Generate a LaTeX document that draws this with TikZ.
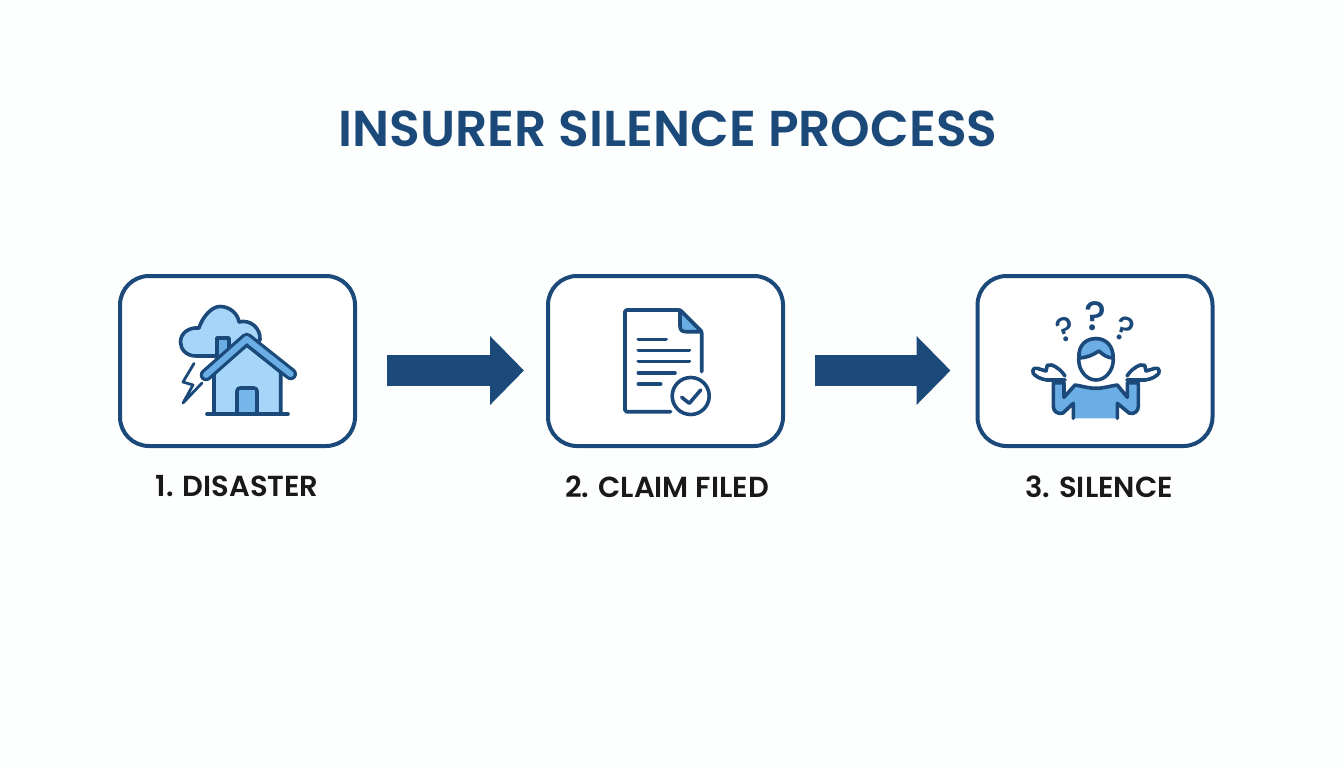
\documentclass[tikz,border=0pt]{standalone}
\usepackage{fontspec}
\setmainfont[BoldFont=Poppins SemiBold]{Poppins}
\newfontfamily\questfont{Poppins Medium}
\usetikzlibrary{arrows.meta}
\definecolor{navyline}{HTML}{1B4A7A}
\definecolor{paleblue}{HTML}{A5D5F8}
\definecolor{midblue}{HTML}{6BAEE6}
\definecolor{pagetint}{HTML}{FDFEFE}
\tikzset{
  stepbox/.style={draw=navyline,line width=4pt,rounded corners=29pt,minimum width=235pt,minimum height=170pt,outer sep=0pt,fill=white},
  steplabel/.style={font=\fontsize{29}{32}\selectfont\bfseries,text=black!90,inner sep=0pt},
  flowarrow/.style={draw=navyline,line width=31pt,-{Triangle[length=34pt,width=67pt,fill=navyline]}},
  icon/.style={draw=navyline,line width=3.6pt,line join=round,line cap=round},
  quest/.style={text=navyline,inner sep=0pt}
}
\begin{document}
\begin{tikzpicture}[x=1pt,y=-1pt]
  \useasboundingbox[fill=pagetint] (0,0) rectangle (1344,768);

  \node[font=\fontsize{50.4}{56}\selectfont\bfseries,text=navyline,inner sep=0pt] (title) at (668,129) {INSURER SILENCE PROCESS};

  \node[stepbox] (disaster) at (237.5,361) {};
  \node[stepbox] (claim) at (665.5,361) {};
  \node[stepbox] (silence) at (1095,361) {};

  \node[steplabel] (disasterlabel) at (237,486.5) {1. DISASTER};
  \node[steplabel] (claimlabel) at (667,486.5) {2. CLAIM FILED};
  \node[steplabel] (silencelabel) at (1099,486.5) {3. SILENCE};

  \draw[flowarrow] ([xshift=32pt,yshift=-9.5pt]disaster.east) -- ([xshift=-24pt,yshift=-9.5pt]claim.west);
  \draw[flowarrow] ([xshift=32pt,yshift=-9.5pt]claim.east) -- ([xshift=-27pt,yshift=-9.5pt]silence.west);

  % cloud and bolt
  \draw[icon,fill=paleblue] (196,356) .. controls (186,356) and (180.5,349) .. (180.5,342) .. controls (180.5,333) and (189,327) .. (199,328) .. controls (202,318) and (211,306.5) .. (220,306.5) .. controls (230,306.5) and (238,314) .. (239,322) .. controls (250,319) and (261,328) .. (260,340) -- (235,356) -- cycle;
  \draw[icon,line width=2.8pt] (194,363.5) -- (183,382) -- (193,385) -- (183,403) -- (202,383);
  % house
  \draw[icon,fill=midblue] (217,362) -- (217,338) -- (229,338) -- (229,350);
  \draw[icon,fill=paleblue] (214,414) -- (214,372) -- (246.7,345) -- (280.7,372) -- (280.7,414);
  \draw[navyline,line width=12.5pt,line join=round,line cap=round] (206,375) -- (246.7,339) -- (290.7,374);
  \draw[midblue,line width=6pt,line join=round,line cap=round] (206,375) -- (246.7,339) -- (290.7,374);
  \draw[icon,fill=midblue!80!paleblue,rounded corners=3pt] (237,414) -- (237,388) -- (257,388) -- (257,414);
  \draw[icon] (207,414) -- (288,414);

  % document
  \draw[icon,rounded corners=1.5pt] (701.7,371.7) -- (701.7,331.7) -- (680,310) -- (625,310) -- (625,411.7) -- (670.7,411.7);
  \draw[icon,fill=midblue] (680,310) -- (680,326) .. controls (680,330) and (682,331.7) .. (686,331.7) -- (701.7,331.7) -- cycle;
  \foreach \ypos/\xend in {339.3/666,350.3/689.3,361.3/689.3,372.7/675,384/660.7}
    \draw[icon] (638.3,\ypos) -- (\xend,\ypos);
  \draw[icon] (690.7,396) circle (18.5);
  \draw[icon] (681.7,397.3) -- (689.3,403.3) -- (700.7,390);

  % person
  \draw[icon,fill=midblue] (1073.3,418.3) -- (1073.3,403.3) -- (1063,413) .. controls (1058,415) and (1053.3,411) .. (1053.3,406.7) -- (1053.3,382.7) -- (1064,382.7) -- (1064,397.3) -- (1075,385) .. controls (1082,386) and (1088,388.3) .. (1096,388.3) .. controls (1104,388.3) and (1110,386) .. (1117.3,385) -- (1127.3,397.3) -- (1127.3,382.7) -- (1138.3,382.7) -- (1138.3,406.7) .. controls (1138.3,411) and (1134,415) .. (1129,413) -- (1117.3,403.3) -- (1117.3,418.3);
  \draw[icon,fill=white] (1096,359.3) ellipse (17.3 and 20.7);
  \draw[icon,fill=midblue] (1079,358) .. controls (1078,345) and (1086,338.6) .. (1096,338.6) .. controls (1106,338.6) and (1113.5,346) .. (1113,358) .. controls (1108,358) and (1103,355) .. (1099,351) .. controls (1093,355) and (1086,358) .. (1079,358) -- cycle;
  \draw[icon,fill=white] (1065,380) -- (1046.7,380) .. controls (1040,379) and (1035,376) .. (1033.3,373.3) .. controls (1032,369) and (1034,368) .. (1037,368.3) -- (1046,371) -- (1047.3,365.3) -- (1051.7,365) .. controls (1057,367) and (1062,371) .. (1065,376);
  \draw[icon,fill=white] (1127,380) -- (1145.3,380) .. controls (1152,379) and (1157,376) .. (1158.7,373.3) .. controls (1160,369) and (1158,368) .. (1155,368.3) -- (1146,371) -- (1144.7,365.3) -- (1140.3,365) .. controls (1135,367) and (1130,371) .. (1127,376);
  \node[quest,font=\fontsize{34}{36}\selectfont\questfont,rotate=18] (questleft) at (1065.5,329) {?};
  \node[quest,font=\fontsize{41}{43}\selectfont\questfont] (questmid) at (1095.7,316.5) {?};
  \node[quest,font=\fontsize{34}{36}\selectfont\questfont,rotate=-18] (questright) at (1125,329.5) {?};
\end{tikzpicture}
\end{document}
